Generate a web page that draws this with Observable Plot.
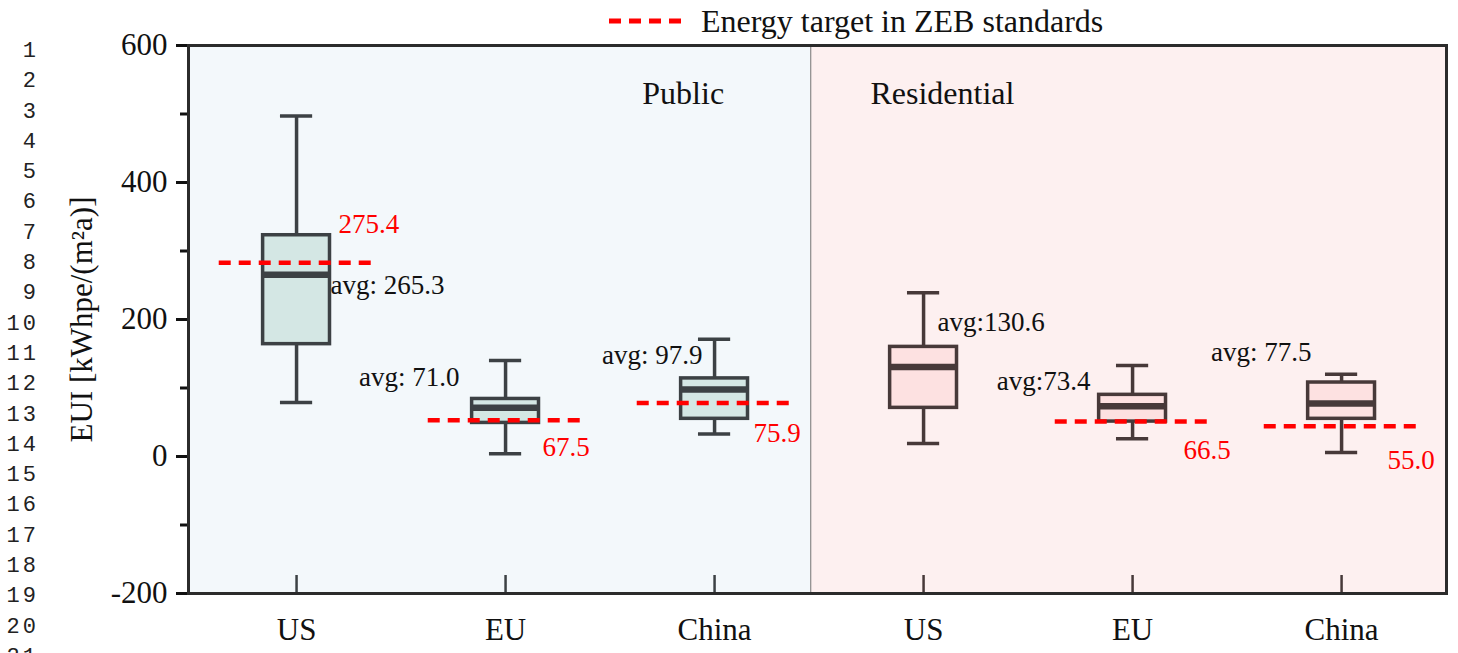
<!DOCTYPE html>
<html>
<head>
<meta charset="utf-8">
<script src="https://cdn.jsdelivr.net/npm/d3@7"></script>
<script src="https://cdn.jsdelivr.net/npm/@observablehq/plot@0.6"></script>
<style>
  html, body { margin: 0; padding: 0; background: #fff; }
  #wrap { position: relative; width: 1458px; height: 653px; overflow: hidden; }
  #chart svg, #chart svg text { font-family: "Liberation Serif", serif !important; }
  #linenos { position: absolute; left: 0; top: 37px; width: 39px; text-align: right;
             font-family: "Liberation Mono", monospace; font-size: 22px; line-height: 30.3px;
             letter-spacing: 3px; color: #222; }
  #legend { position: absolute; left: 609px; top: 1px; height: 40px; display: flex; align-items: center;
            font-family: "Liberation Serif", serif; font-size: 32px; color: #111; }
  #legend svg { margin-right: 12px; }
</style>
</head>
<body>
<div id="wrap">
  <div id="chart"></div>
  <div id="linenos"></div>
  <div id="legend"></div>
</div>
<script>
// ---- data ----
const sectors = ["Public", "Public", "Public", "Residential", "Residential", "Residential"];
const regions = ["US", "EU", "China", "US", "EU", "China"];
const whiskerLow  = [79, 4, 33, 19, 26, 6];
const q1          = [164, 49, 55, 71, 51, 55];
const avg         = [265.3, 71.0, 97.9, 130.6, 73.4, 77.5];
const q3          = [323, 84, 114, 160, 90, 108];
const whiskerHigh = [497, 140, 171, 239, 133, 120];
const avgLabels   = ["avg: 265.3", "avg: 71.0", "avg: 97.9", "avg:130.6", "avg:73.4", "avg: 77.5"];
const targetLine  = [283, 53, 78, null, 51, 44];
const targetLabels = ["275.4", "67.5", "75.9", null, "66.5", "55.0"];
const yMajorTicks = [-200, 0, 200, 400, 600];
const yMinorTicks = [-100, 100, 300, 500];
const legendText = "Energy target in ZEB standards";
const yLabel = "EUI [kWhpe/(m\u00B2a)]";
const lineNumbers = d3.range(1, 22);

// ---- layout (pixel offsets of annotations) ----
const avgLayout = [
  {dx: 34, dy: 11, anchor: "start"},
  {dx: -46, dy: -31, anchor: "end"},
  {dx: -12, dy: -34, anchor: "end"},
  {dx: 14, dy: -45, anchor: "start"},
  {dx: -42, dy: -25, anchor: "end"},
  {dx: -30, dy: -51, anchor: "end"}
];
const targetLayout = [
  {dx: 42, dy: -38},
  {dx: 37, dy: 27},
  {dx: 39, dy: 30},
  null,
  {dx: 51, dy: 29},
  {dx: 46, dy: 34}
];

const fillOf = {Public: "#d4e7e4", Residential: "#fde1e1"};
const strokeOf = {Public: "#3c4144", Residential: "#473939"};
const bgOf = {Public: "#f3f8fb", Residential: "#fdf0f0"};
const red = "#ff0000";
const serif = "Liberation Serif";

const idx = d3.range(regions.length);
const xs = i => i + 1;
const boxHalf = 0.16, capHalf = 0.077, targetHalf = 0.37;
const divider = 3.46;
const xDomain = [0.483, 6.502];
const tickLen = 18 / (548 / 800);

const panels = [
  {sector: "Public", x1: xDomain[0], x2: divider},
  {sector: "Residential", x1: divider, x2: xDomain[1]}
];
const tIdx = idx.filter(i => targetLine[i] != null);

const marks = [
  Plot.rect(panels, {x1: "x1", x2: "x2", y1: -200, y2: 600, fill: d => bgOf[d.sector]}),
  Plot.ruleX([divider], {stroke: "#8a8a8a", strokeWidth: 1.2}),
  // sector titles
  Plot.text(["Public"], {x: 2.85, y: 529, text: d => d, fontSize: 32, fontFamily: serif, fill: "#111"}),
  Plot.text(["Residential"], {x: 4.09, y: 529, text: d => d, fontSize: 32, fontFamily: serif, fill: "#111"}),
  // x ticks (inward)
  Plot.ruleX(idx, {x: xs, y1: -200, y2: -200 + tickLen, stroke: i => strokeOf[sectors[i]], strokeWidth: 2.5}),
  // whiskers
  Plot.ruleX(idx, {x: xs, y1: i => whiskerLow[i], y2: i => q1[i], stroke: i => strokeOf[sectors[i]], strokeWidth: 3.5}),
  Plot.ruleX(idx, {x: xs, y1: i => q3[i], y2: i => whiskerHigh[i], stroke: i => strokeOf[sectors[i]], strokeWidth: 3.5}),
  Plot.ruleY(idx, {y: i => whiskerLow[i], x1: i => xs(i) - capHalf, x2: i => xs(i) + capHalf, stroke: i => strokeOf[sectors[i]], strokeWidth: 3.5}),
  Plot.ruleY(idx, {y: i => whiskerHigh[i], x1: i => xs(i) - capHalf, x2: i => xs(i) + capHalf, stroke: i => strokeOf[sectors[i]], strokeWidth: 3.5}),
  // boxes
  Plot.rect(idx, {x1: i => xs(i) - boxHalf, x2: i => xs(i) + boxHalf, y1: i => q1[i], y2: i => q3[i],
    fill: i => fillOf[sectors[i]], stroke: i => strokeOf[sectors[i]], strokeWidth: 3.5}),
  // avg line
  Plot.ruleY(idx, {y: i => avg[i], x1: i => xs(i) - boxHalf, x2: i => xs(i) + boxHalf, stroke: i => strokeOf[sectors[i]], strokeWidth: 6.5}),
  // target lines
  Plot.ruleY(tIdx, {y: i => targetLine[i], x1: i => xs(i) - targetHalf, x2: i => xs(i) + targetHalf,
    stroke: red, strokeWidth: 4.5, strokeDasharray: "12,8"}),
  // avg labels
  ...idx.map(i => Plot.text([i], {x: xs, y: j => avg[j], text: j => avgLabels[j],
    dx: avgLayout[i].dx, dy: avgLayout[i].dy, textAnchor: avgLayout[i].anchor,
    fontSize: 27, fontFamily: serif, fill: "#111"})),
  // target labels
  ...tIdx.map(i => Plot.text([i], {x: xs, y: j => targetLine[j], text: j => targetLabels[j],
    dx: targetLayout[i].dx, dy: targetLayout[i].dy, textAnchor: "start",
    fontSize: 27, fontFamily: serif, fill: red})),
  // axes
  Plot.axisY({ticks: yMajorTicks, tickSize: 12, tickPadding: 9, tickFormat: d => String(d),
    fontSize: 31, fontFamily: serif, stroke: "#111", strokeWidth: 3, fill: "#111", label: null}),
  Plot.axisY({ticks: yMinorTicks, tickSize: 8, tickFormat: () => "", stroke: "#111", strokeWidth: 3, label: null}),
  Plot.axisX({ticks: idx.map(xs), tickSize: 0, tickPadding: 24, tickFormat: v => regions[Math.round(v) - 1],
    fontSize: 31, fontFamily: serif, fill: "#111", label: null}),
  Plot.text([yLabel], {frameAnchor: "left", text: d => d, rotate: -90, dx: -106, textAnchor: "middle",
    fontSize: 31, fontFamily: serif, fill: "#111"}),
  Plot.frame({stroke: "#2b2b2b", strokeWidth: 3})
];

const chart = Plot.plot({
  width: 1458,
  height: 653,
  marginTop: 45,
  marginBottom: 60,
  marginLeft: 188,
  marginRight: 12,
  x: {type: "linear", domain: xDomain},
  y: {domain: [-200, 600]},
  color: {type: "identity"},
  style: {fontFamily: serif, fontSize: "31px", background: "transparent", overflow: "visible"},
  marks
});
document.getElementById("chart").appendChild(chart);

// line numbers
document.getElementById("linenos").innerHTML = lineNumbers.map(n => `<div>${n}</div>`).join("");

// legend
document.getElementById("legend").innerHTML =
  `<svg width="80" height="10"><line x1="0" y1="5" x2="80" y2="5" stroke="${red}" stroke-width="5" stroke-dasharray="12,8"/></svg><span>${legendText}</span>`;
</script>
</body>
</html>
